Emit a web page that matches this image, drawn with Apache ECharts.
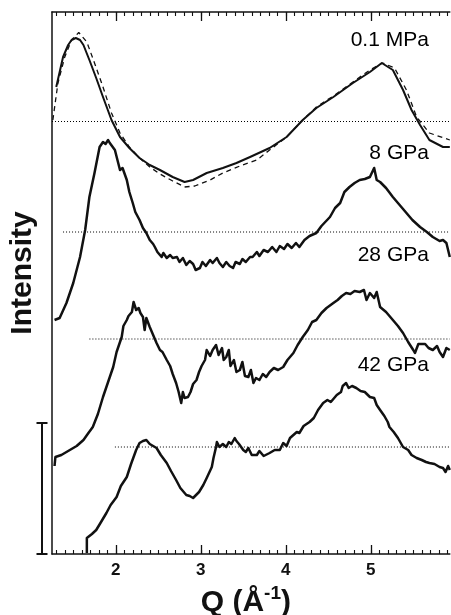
<!DOCTYPE html>
<html><head><meta charset="utf-8">
<script src="https://cdn.jsdelivr.net/npm/echarts@6/dist/echarts.min.js"></script>
<style>html,body{margin:0;padding:0;background:#fff}#c{width:451px;height:615px}</style>
</head><body><div id="c"></div>
<script>
// ---- axis range and ticks (Q in 1/Angstrom) ----
const qMin = 1.25, qMax = 5.93;
const majorTicks = [2, 3, 4, 5];
const minorTicks = [];
for (let i = 13; i <= 59; i++) minorTicks.push(i / 10);

// ---- curve labels ----
const curveNames = ['0.1 MPa', '8 GPa', '28 GPa', '42 GPa'];
const labelQ = 5.69;
const labelLevels = [5.14, 4.01, 2.985, 1.89];

// ---- dotted baselines (offset levels) ----
const baselineLevels = [4.325, 3.22, 2.15, 1.07];
const baselineStarts = [1.25, 1.38, 1.69, 1.99];

// ---- intensity scale bar ----
const scaleBar = [0, 1.31];

// ---- measured curves [Q, offset intensity] ----
const meas01MPa = [[1.30,4.67],[1.34,4.82],[1.38,4.97],[1.44,5.09],[1.48,5.14],[1.53,5.16],[1.58,5.14],[1.62,5.09],[1.69,4.94],[1.77,4.76],[1.85,4.57],[1.95,4.34],[2.05,4.17],[2.16,4.06],[2.28,3.96],[2.40,3.89],[2.52,3.84],[2.67,3.77],[2.81,3.72],[2.91,3.74],[3.07,3.81],[3.26,3.86],[3.42,3.91],[3.58,3.97],[3.81,4.06],[4.01,4.17],[4.20,4.34],[4.36,4.46],[4.56,4.57],[4.79,4.71],[4.99,4.82],[5.13,4.91],[5.26,4.84],[5.38,4.64],[5.48,4.44],[5.58,4.29],[5.69,4.14],[5.85,4.07],[5.93,4.07]];

const calc01MPa = [[1.26,4.34],[1.32,4.71],[1.40,4.97],[1.48,5.14],[1.565,5.215],[1.66,5.12],[1.75,4.91],[1.85,4.67],[1.95,4.41],[2.05,4.21],[2.16,4.07],[2.28,3.96],[2.40,3.87],[2.52,3.80],[2.67,3.73],[2.81,3.67],[2.93,3.68],[3.11,3.74],[3.26,3.81],[3.46,3.88],[3.66,3.94],[3.81,4.04],[4.01,4.17],[4.20,4.34],[4.36,4.47],[4.56,4.58],[4.79,4.72],[4.99,4.84],[5.14,4.91],[5.28,4.86],[5.42,4.64],[5.54,4.37],[5.69,4.21],[5.93,4.14]];

const meas8GPa = [[1.28,2.34],[1.34,2.36],[1.42,2.51],[1.50,2.71],[1.58,2.97],[1.64,3.24],[1.69,3.57],[1.75,3.81],[1.81,4.07],[1.85,4.12],[1.88,4.10],[1.91,4.14],[1.93,4.11],[1.95,4.13],[1.99,4.04],[2.01,4.06],[2.05,3.84],[2.08,3.86],[2.13,3.74],[2.16,3.62],[2.20,3.51],[2.23,3.42],[2.28,3.34],[2.32,3.26],[2.36,3.21],[2.40,3.14],[2.44,3.10],[2.46,3.07],[2.49,3.02],[2.54,2.97],[2.56,3.01],[2.60,2.96],[2.64,2.99],[2.67,2.96],[2.72,2.97],[2.75,2.92],[2.79,2.96],[2.83,2.89],[2.87,2.93],[2.91,2.90],[2.94,2.84],[2.99,2.86],[3.02,2.92],[3.06,2.88],[3.11,2.94],[3.14,2.91],[3.19,2.96],[3.22,2.91],[3.26,2.87],[3.30,2.92],[3.34,2.88],[3.38,2.86],[3.41,2.92],[3.46,2.90],[3.49,2.95],[3.53,2.92],[3.58,2.97],[3.61,2.97],[3.66,3.02],[3.69,2.98],[3.74,3.04],[3.79,3.02],[3.84,3.07],[3.89,3.02],[3.93,3.08],[3.98,3.05],[4.02,3.10],[4.07,3.06],[4.12,3.11],[4.16,3.07],[4.22,3.14],[4.28,3.18],[4.36,3.21],[4.42,3.28],[4.52,3.37],[4.58,3.46],[4.64,3.51],[4.69,3.62],[4.75,3.67],[4.81,3.71],[4.87,3.74],[4.93,3.75],[4.99,3.77],[5.04,3.86],[5.07,3.74],[5.11,3.72],[5.18,3.66],[5.26,3.57],[5.34,3.49],[5.42,3.41],[5.49,3.34],[5.58,3.27],[5.66,3.22],[5.73,3.17],[5.81,3.13],[5.85,3.14],[5.89,3.11],[5.93,2.97]];

const meas28GPa = [[1.28,0.88],[1.29,0.97],[1.36,0.99],[1.46,1.04],[1.54,1.08],[1.62,1.14],[1.67,1.20],[1.73,1.27],[1.79,1.40],[1.85,1.57],[1.91,1.72],[1.97,1.87],[2.01,2.02],[2.07,2.17],[2.09,2.28],[2.13,2.34],[2.15,2.38],[2.19,2.42],[2.21,2.52],[2.24,2.44],[2.27,2.46],[2.29,2.41],[2.32,2.37],[2.34,2.24],[2.36,2.36],[2.40,2.27],[2.44,2.19],[2.48,2.11],[2.52,2.04],[2.55,2.02],[2.60,1.94],[2.64,1.88],[2.67,1.80],[2.71,1.71],[2.74,1.62],[2.77,1.51],[2.79,1.62],[2.81,1.56],[2.85,1.57],[2.88,1.62],[2.91,1.70],[2.95,1.74],[2.98,1.82],[3.01,1.88],[3.05,1.94],[3.07,2.04],[3.11,1.98],[3.14,2.04],[3.18,2.09],[3.21,1.99],[3.25,2.06],[3.27,1.94],[3.30,1.97],[3.33,2.04],[3.35,1.88],[3.39,1.94],[3.42,1.82],[3.46,1.84],[3.49,1.92],[3.52,1.78],[3.56,1.77],[3.59,1.84],[3.62,1.71],[3.65,1.76],[3.69,1.74],[3.73,1.80],[3.77,1.77],[3.81,1.82],[3.86,1.86],[3.91,1.84],[3.97,1.87],[4.02,1.94],[4.09,2.01],[4.14,2.09],[4.20,2.17],[4.26,2.24],[4.31,2.32],[4.36,2.34],[4.42,2.41],[4.48,2.46],[4.56,2.51],[4.61,2.54],[4.66,2.58],[4.71,2.61],[4.76,2.60],[4.81,2.63],[4.87,2.62],[4.92,2.64],[4.95,2.54],[4.99,2.61],[5.04,2.56],[5.07,2.62],[5.11,2.47],[5.18,2.42],[5.26,2.34],[5.32,2.28],[5.38,2.21],[5.44,2.12],[5.50,2.04],[5.52,2.01],[5.56,2.10],[5.58,2.12],[5.64,2.10],[5.68,2.06],[5.73,2.04],[5.78,2.08],[5.81,2.02],[5.85,1.97],[5.89,2.06],[5.93,2.04]];

const meas42GPa = [[1.66,0.01],[1.66,0.16],[1.72,0.20],[1.77,0.24],[1.82,0.31],[1.89,0.41],[1.94,0.49],[2.01,0.57],[2.06,0.68],[2.13,0.77],[2.18,0.90],[2.24,1.04],[2.28,1.11],[2.32,1.13],[2.36,1.14],[2.40,1.10],[2.44,1.08],[2.48,1.06],[2.53,0.99],[2.60,0.91],[2.65,0.83],[2.71,0.74],[2.76,0.66],[2.83,0.59],[2.87,0.58],[2.91,0.56],[2.93,0.57],[2.98,0.62],[3.03,0.69],[3.07,0.76],[3.13,0.87],[3.15,0.96],[3.18,1.07],[3.19,1.12],[3.22,1.07],[3.26,1.10],[3.30,1.07],[3.33,1.12],[3.36,1.10],[3.40,1.16],[3.42,1.13],[3.45,1.10],[3.50,1.04],[3.53,1.02],[3.56,1.06],[3.60,0.99],[3.66,0.99],[3.69,1.03],[3.74,0.98],[3.81,1.01],[3.87,1.04],[3.93,1.04],[3.97,1.11],[4.01,1.08],[4.05,1.16],[4.13,1.22],[4.16,1.21],[4.21,1.28],[4.28,1.32],[4.33,1.36],[4.38,1.44],[4.44,1.51],[4.49,1.54],[4.53,1.52],[4.60,1.59],[4.65,1.62],[4.67,1.68],[4.71,1.71],[4.74,1.66],[4.78,1.68],[4.83,1.66],[4.88,1.63],[4.93,1.62],[4.99,1.57],[5.04,1.56],[5.07,1.49],[5.11,1.44],[5.16,1.38],[5.20,1.32],[5.22,1.27],[5.27,1.22],[5.32,1.16],[5.38,1.07],[5.44,1.04],[5.48,0.99],[5.54,0.96],[5.60,0.94],[5.65,0.92],[5.69,0.91],[5.75,0.90],[5.81,0.87],[5.85,0.86],[5.88,0.82],[5.91,0.88],[5.93,0.84]];

// ---- chart ----
const INK = '#111';
const FONT = 'Liberation Sans, Arial, Helvetica, sans-serif';
const chart = echarts.init(document.getElementById('c'), null, { renderer: 'canvas' });

const axisBase = { type: 'value', min: qMin, max: qMax, splitLine: { show: false } };
const majorTickStyle = { show: true, inside: true, length: 9, customValues: majorTicks, lineStyle: { color: INK, width: 1.3 } };
const minorTickStyle = { show: true, inside: true, length: 4, customValues: minorTicks, lineStyle: { color: INK, width: 1.1 } };
const axisLineStyle = { show: true, onZero: false, lineStyle: { color: INK, width: 1.5 } };

const series = [];
baselineLevels.forEach((lv, i) => {
  series.push({
    type: 'line', symbol: 'none', silent: true, z: 1,
    data: [[baselineStarts[i], lv], [qMax, lv]],
    lineStyle: { color: '#000', width: 1, type: [1, 2] }
  });
});
series.push({ type: 'line', symbol: 'none', data: calc01MPa, z: 2,
  lineStyle: { color: INK, width: 1.3, type: [5, 4] } });
[meas01MPa, meas8GPa, meas28GPa, meas42GPa].forEach((d, i) => {
  series.push({ type: 'line', symbol: 'none', data: d, z: 3,
    lineStyle: { color: INK, width: i === 0 ? 2 : 2.5, join: 'round' } });
});
series.push({
  type: 'scatter', symbolSize: 1, itemStyle: { color: 'rgba(0,0,0,0)', opacity: 1 }, silent: true, z: 5,
  data: curveNames.map((n, i) => [labelQ, labelLevels[i], n]),
  label: { show: true, position: 'left', distance: 0, formatter: p => p.data[2],
    fontSize: 21, fontFamily: FONT, color: '#000', opacity: 1 }
});
series.push({
  type: 'custom', clip: false, silent: true,
  data: [scaleBar],
  renderItem: (params, api) => {
    const p0 = api.coord([qMin, api.value(0)]);
    const p1 = api.coord([qMin, api.value(1)]);
    const x = p0[0] - 10, hw = 5.5;
    const st = { stroke: INK, lineWidth: 2 };
    return { type: 'group', children: [
      { type: 'line', shape: { x1: x, y1: p0[1], x2: x, y2: p1[1] }, style: st },
      { type: 'line', shape: { x1: x - hw, y1: p0[1], x2: x + hw, y2: p0[1] }, style: st },
      { type: 'line', shape: { x1: x - hw, y1: p1[1], x2: x + hw, y2: p1[1] }, style: st }
    ]};
  }
});

chart.setOption({
  animation: false,
  backgroundColor: '#fff',
  grid: { left: 52, right: 1.2, top: 12, bottom: 61, outerBoundsMode: 'none' },
  xAxis: [
    Object.assign({}, axisBase, {
      position: 'bottom', axisLine: axisLineStyle, axisTick: majorTickStyle,
      axisLabel: { show: true, customValues: majorTicks, fontSize: 17, fontWeight: 'bold', fontFamily: FONT, color: INK, margin: 8 },
      name: 'Q (Å{sup|-1})', nameLocation: 'middle', nameGap: 25,
      nameTextStyle: { fontSize: 30, fontWeight: 'bold', fontFamily: FONT, color: INK, padding: [0, 10, 0, 0],
        rich: { sup: { fontSize: 19, fontWeight: 'bold', fontFamily: FONT, color: INK, verticalAlign: 'bottom', padding: [0, 0, 18, 0] } } }
    }),
    Object.assign({}, axisBase, { position: 'bottom', axisLine: { show: false }, axisTick: minorTickStyle, axisLabel: { show: false } }),
    Object.assign({}, axisBase, { position: 'top', axisLine: axisLineStyle, axisTick: majorTickStyle, axisLabel: { show: false } }),
    Object.assign({}, axisBase, { position: 'top', axisLine: { show: false }, axisTick: minorTickStyle, axisLabel: { show: false } })
  ],
  yAxis: {
    type: 'value', min: 0, max: 5.42,
    axisLine: axisLineStyle, axisTick: { show: false }, axisLabel: { show: false }, splitLine: { show: false },
    name: 'Intensity', nameLocation: 'middle', nameRotate: 90, nameGap: 14,
    nameTextStyle: { fontSize: 30, fontWeight: 'bold', fontFamily: FONT, color: INK, padding: [0, 0, 0, 20] }
  },
  series: series
});
</script></body></html>
